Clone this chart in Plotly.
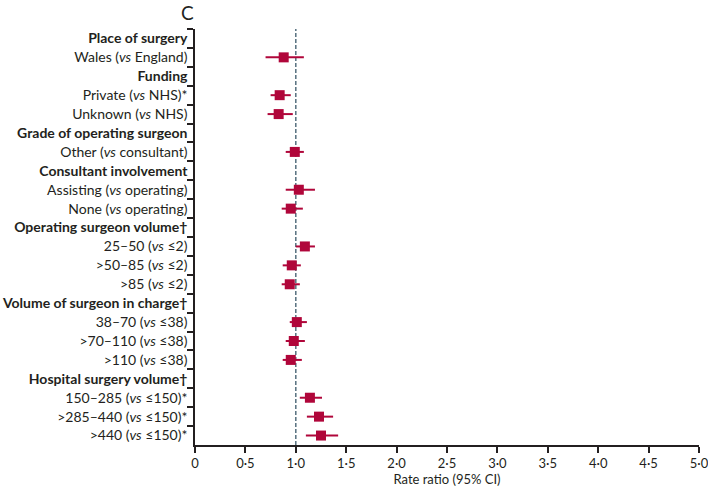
import plotly.graph_objects as go

labels = [
    "<b>Place of surgery</b>",
    "Wales (<i>vs</i> England)",
    "<b>Funding</b>",
    "Private (<i>vs</i> NHS)*",
    "Unknown (<i>vs</i> NHS)",
    "<b>Grade of operating surgeon</b>",
    "Other (<i>vs</i> consultant)",
    "<b>Consultant involvement</b>",
    "Assisting (<i>vs</i> operating)",
    "None (<i>vs</i> operating)",
    "<b>Operating surgeon volume†</b>",
    "25–50 (<i>vs</i> ≤2)",
    ">50–85 (<i>vs</i> ≤2)",
    ">85 (<i>vs</i> ≤2)",
    "<b>Volume of surgeon in charge†</b>",
    "38–70 (<i>vs</i> ≤38)",
    ">70–110 (<i>vs</i> ≤38)",
    ">110 (<i>vs</i> ≤38)",
    "<b>Hospital surgery volume†</b>",
    "150–285 (<i>vs</i> ≤150)*",
    ">285–440 (<i>vs</i> ≤150)*",
    ">440 (<i>vs</i> ≤150)*",
]
estimate = [None, 0.88, None, 0.84, 0.83, None, 0.99, None, 1.03, 0.95, None,
            1.09, 0.96, 0.94, None, 1.01, 0.98, 0.95, None, 1.14, 1.23, 1.25]
lower = [None, 0.70, None, 0.75, 0.72, None, 0.90, None, 0.90, 0.86, None,
         1.00, 0.87, 0.86, None, 0.94, 0.90, 0.87, None, 1.04, 1.11, 1.10]
upper = [None, 1.08, None, 0.95, 0.97, None, 1.08, None, 1.19, 1.07, None,
         1.19, 1.05, 1.04, None, 1.11, 1.09, 1.06, None, 1.26, 1.37, 1.42]
xticks = [0, 0.5, 1.0, 1.5, 2.0, 2.5, 3.0, 3.5, 4.0, 4.5, 5.0]
xticklabels = ["0", "0·5", "1·0", "1·5", "2·0", "2·5", "3·0", "3·5", "4·0", "4·5", "5·0"]

red = "#b0063a"
ink = "#231f20"
font = "Lato"

plus = [None if e is None else u - e for e, u in zip(estimate, upper)]
minus = [None if e is None else e - l for e, l in zip(estimate, lower)]

W, H = 708, 493
ml, mr, mt, mb = 195, 9, 29, 48
pw, ph = W - ml - mr, H - mt - mb

fig = go.Figure()
fig.add_trace(go.Scatter(
    x=estimate, y=labels, mode="markers",
    marker=dict(symbol="square", size=10, color=red),
    error_x=dict(type="data", symmetric=False, array=plus, arrayminus=minus,
                 color=red, thickness=2, width=0),
    showlegend=False, hoverinfo="skip",
))

fig.add_shape(type="line", x0=1, x1=1, y0=0, y1=1, xref="x", yref="paper",
              line=dict(color="#56707f", width=1.5, dash="4px,2px"), layer="below")

fig.add_annotation(text="C", xref="paper", yref="paper",
                   x=(187 - ml) / pw, y=1 + (mt - 12.5) / ph,
                   xanchor="center", yanchor="middle", showarrow=False,
                   font=dict(size=19, color=ink))

fig.update_layout(
    width=W, height=H,
    margin=dict(l=ml, r=mr, t=mt, b=mb, autoexpand=False),
    paper_bgcolor="white", plot_bgcolor="white",
    font=dict(family=font, size=14, color=ink),
    xaxis=dict(range=[0, 5], tickvals=xticks, ticktext=xticklabels,
               automargin=False, ticklabeloverflow="allow",
               showgrid=False, zeroline=False, showline=True, linecolor=ink,
               linewidth=1.5, ticks="outside", ticklen=6, tickcolor=ink,
               tickwidth=1.5,
               title=dict(text="Rate ratio (95% CI)", font=dict(size=13), standoff=2),
               tickfont=dict(size=13)),
    yaxis=dict(type="category", categoryorder="array", categoryarray=labels,
               range=[len(labels) - 0.5, -0.5], tickson="boundaries", ticks="outside",
               automargin=False, ticklabelstandoff=3, ticklabeloverflow="allow",
               ticklen=6, tickcolor=ink, tickwidth=1.5,
               showline=True, linecolor=ink, linewidth=1.5,
               showgrid=False, zeroline=False, tickfont=dict(size=14)),
)

fig.write_html("out.html", config={"displayModeBar": False},
               post_script="document.body.style.margin='0';")
